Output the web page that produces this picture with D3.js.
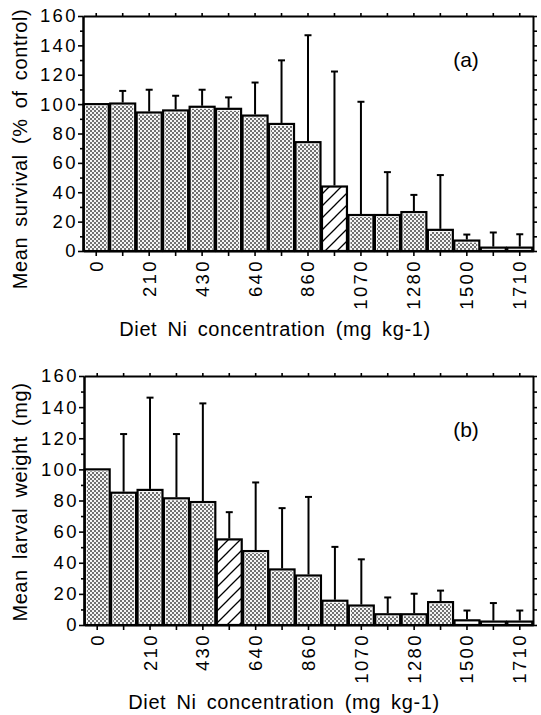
<!DOCTYPE html>
<html>
<head>
<meta charset="utf-8">
<script src="https://cdn.jsdelivr.net/npm/d3@7"></script>
<style>
  html, body { margin: 0; padding: 0; background: #fff; }
  svg { display: block; font-family: "Liberation Sans", Arial, Helvetica, sans-serif; }
  .tick text { font-size: 18.5px; letter-spacing: 2.4px; fill: #000; }
  .ttl { font-size: 20px; letter-spacing: 0.6px; word-spacing: 4px; fill: #000; }
  .tag { font-size: 21px; fill: #000; }
</style>
</head>
<body>
<svg id="chart" width="541" height="715"></svg>
<script>
// diet Ni concentrations (mg kg-1), only every other one is labelled
const categories = ['0', '105', '210', '320', '430', '535', '640', '750', '860', '965', '1070', '1175', '1280', '1390', '1500', '1605', '1710'];
const tickLabels = ['0', '210', '430', '640', '860', '1070', '1280', '1500', '1710'];
const yTicks = [0, 20, 40, 60, 80, 100, 120, 140, 160];

// (a) mean survival, % of control, with upper SD
const survivalMean = [100, 100.4, 94.3, 95.7, 98.2, 96.8, 92.2, 86.5, 74.1, 43.9, 24.5, 24.5, 26.5, 14.4, 7.1, 2.3, 2.3];
const survivalSD   = [0, 8.6, 15.5, 10, 11.6, 7.8, 22.5, 43.3, 72.8, 78.3, 77.1, 29.2, 11.7, 37.3, 4.1, 10.3, 9.1];
const survivalHatched = '965';

// (b) mean larval weight, mg, with upper SD
const weightMean = [100, 85, 86.8, 81.4, 79, 55, 47.5, 35.7, 31.8, 15.6, 12.5, 6.9, 6.9, 14.7, 3, 2.2, 2.2];
const weightSD   = [0, 37.7, 59.3, 41.3, 63.4, 17.5, 44.1, 39.4, 50.5, 34.6, 29.7, 10.8, 13.2, 7.4, 6.3, 11.9, 7.1];
const weightHatched = '535';

const svg = d3.select('#chart');
svg.append('rect').attr('width', 541).attr('height', 715).attr('fill', '#fff');

// fill patterns: stipple and diagonal hatch
const defs = svg.append('defs');
const stip = defs.append('pattern').attr('id', 'stip').attr('patternUnits', 'userSpaceOnUse')
    .attr('width', 4).attr('height', 4);
stip.append('rect').attr('width', 4).attr('height', 4).attr('fill', '#f4f4f4');
stip.append('rect').attr('width', 2).attr('height', 2).attr('fill', '#707070');
stip.append('rect').attr('x', 2).attr('y', 2).attr('width', 2).attr('height', 2).attr('fill', '#707070');

const hatch = defs.append('pattern').attr('id', 'hatch').attr('patternUnits', 'userSpaceOnUse')
    .attr('width', 12).attr('height', 12);
hatch.append('rect').attr('width', 12).attr('height', 12).attr('fill', '#fff');
hatch.append('path').attr('d', 'M0,12L12,0M-3,3L3,-3M9,15L15,9')
    .attr('stroke', '#000').attr('stroke-width', 1.3);

function drawPanel(p) {
    const x = d3.scaleBand().domain(categories).range([p.left, p.right]).padding(0);
    const y = d3.scaleLinear().domain([0, 160]).range([p.bottom, p.top]);
    const g = svg.append('g');

    const rows = categories.map((c, i) => ({ cat: c, mean: p.mean[i], sd: p.sd[i] }));
    const bw = x.bandwidth() - 1.5;

    // bars
    const bar = g.selectAll('.bar').data(rows).enter().append('g');
    bar.append('rect')
        .attr('x', d => x(d.cat) + 0.75).attr('y', d => y(d.mean))
        .attr('width', bw).attr('height', d => y(0) - y(d.mean))
        .attr('fill', d => d.cat === p.hatch ? 'url(#hatch)' : '#fff')
        .attr('stroke', '#000').attr('stroke-width', 2.2);
    bar.filter(d => d.cat !== p.hatch && y(0) - y(d.mean) > 5).append('rect')
        .attr('x', d => x(d.cat) + 2.8).attr('y', d => y(d.mean) + 2)
        .attr('width', bw - 4).attr('height', d => y(0) - y(d.mean) - 3)
        .attr('fill', 'url(#stip)');

    // error bars, upper half only
    const err = g.selectAll('.err').data(rows.filter(d => d.sd > 0)).enter().append('g')
        .attr('stroke', '#000').attr('stroke-width', 2);
    err.append('line')
        .attr('x1', d => x(d.cat) + x.bandwidth() / 2).attr('x2', d => x(d.cat) + x.bandwidth() / 2)
        .attr('y1', d => y(d.mean) - 1).attr('y2', d => y(d.mean + d.sd));
    err.append('line')
        .attr('x1', d => x(d.cat) + x.bandwidth() / 2 - 3.5).attr('x2', d => x(d.cat) + x.bandwidth() / 2 + 3.5)
        .attr('y1', d => y(d.mean + d.sd)).attr('y2', d => y(d.mean + d.sd));

    // axes
    const minor = d3.range(10, 160, 20);
    g.append('g').attr('transform', `translate(${p.left},0)`)
        .call(d3.axisLeft(y).tickValues(minor).tickSize(3).tickSizeOuter(0).tickFormat(''));
    g.append('g').attr('transform', `translate(${p.left},0)`)
        .call(d3.axisLeft(y).tickValues(yTicks).tickSize(5).tickSizeOuter(0).tickPadding(0));
    g.append('g').attr('transform', `translate(${p.right},0)`)
        .call(d3.axisRight(y).tickValues(d3.range(0, 161, 10)).tickSize(4).tickSizeOuter(0).tickFormat(''));
    g.append('g').attr('transform', `translate(0,${p.top})`)
        .call(d3.axisTop(x).tickSize(3).tickSizeOuter(0).tickFormat(''));
    const xa = g.append('g').attr('transform', `translate(0,${p.bottom})`)
        .call(d3.axisBottom(x).tickSize(5).tickSizeOuter(0)
            .tickFormat(d => tickLabels.includes(d) ? d : ''));
    xa.selectAll('text')
        .attr('transform', 'rotate(-90)').attr('x', -8).attr('y', 0).attr('dy', '0.35em')
        .style('text-anchor', 'end');

    g.selectAll('.domain').attr('stroke', '#000').attr('stroke-width', 2);
    g.selectAll('.tick line').attr('stroke', '#000').attr('stroke-width', 1.6);

    // titles
    g.append('text').attr('class', 'ttl')
        .attr('transform', `translate(20,${p.yTitleY}) rotate(-90)`)
        .attr('dy', '0.35em').attr('text-anchor', 'middle').text(p.yTitle);
    g.append('text').attr('class', 'ttl')
        .attr('x', p.xTitleX).attr('y', p.xTitleY).attr('text-anchor', 'middle')
        .text('Diet Ni concentration (mg kg-1)');
    g.append('text').attr('class', 'tag')
        .attr('x', p.tagX).attr('y', p.tagY).attr('text-anchor', 'middle').text(p.tag);
}

drawPanel({
    left: 83, right: 533, top: 16, bottom: 251,
    mean: survivalMean, sd: survivalSD, hatch: survivalHatched,
    yTitle: 'Mean survival (% of control)', yTitleY: 149,
    xTitleX: 275, xTitleY: 336, tag: '(a)', tagX: 466, tagY: 67
});

drawPanel({
    left: 84, right: 533, top: 376, bottom: 625,
    mean: weightMean, sd: weightSD, hatch: weightHatched,
    yTitle: 'Mean larval weight (mg)', yTitleY: 502,
    xTitleX: 284, xTitleY: 709, tag: '(b)', tagX: 466, tagY: 437
});
</script>
</body>
</html>
